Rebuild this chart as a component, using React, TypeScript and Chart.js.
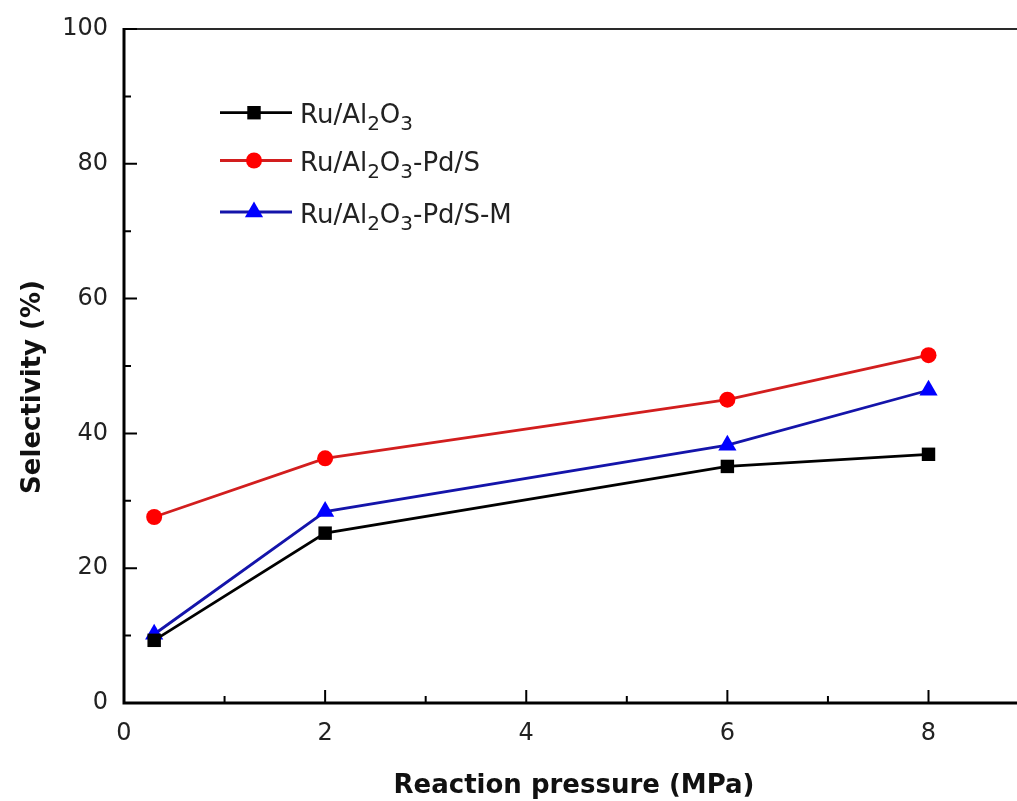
import React, { useEffect, useRef } from "react";
import { Chart, registerables } from "chart.js";

Chart.register(...registerables);

const pressure = [0.3, 2, 6, 8];
const ruAl2O3 = [9.3, 25.2, 35.1, 36.9];
const ruAl2O3PdS = [27.6, 36.3, 45.0, 51.6];
const ruAl2O3PdSM = [10.2, 28.4, 38.25, 46.4];

const xMajorTicks = [0, 2, 4, 6, 8];
const xMinorTicks = [1, 3, 5, 7];
const yMajorTicks = [0, 20, 40, 60, 80, 100];
const yMinorTicks = [10, 30, 50, 70, 90];

const xTitle = "Reaction pressure (MPa)";
const yTitle = "Selectivity (%)";

// legend labels split into [text, isSubscript] parts
const legendParts: [string, boolean][][] = [
  [["Ru/Al", false], ["2", true], ["O", false], ["3", true]],
  [["Ru/Al", false], ["2", true], ["O", false], ["3", true], ["-Pd/S", false]],
  [["Ru/Al", false], ["2", true], ["O", false], ["3", true], ["-Pd/S-M", false]],
];

const lineColors = ["#000000", "#d21e1e", "#1414aa"];
const markerColors = ["#000000", "#ff0000", "#0000ff"];
const markerStyles = ["rect", "circle", "triangle"];
const markerRadii = [9.5, 8, 10.5];

function drawMarker(ctx: CanvasRenderingContext2D, style: string, x: number, y: number, r: number, color: string) {
  ctx.save();
  ctx.fillStyle = color;
  ctx.beginPath();
  if (style === "rect") {
    const s = Math.SQRT1_2 * r;
    ctx.rect(x - s, y - s, 2 * s, 2 * s);
  } else if (style === "circle") {
    ctx.arc(x, y, r, 0, Math.PI * 2);
  } else {
    ctx.moveTo(x, y - r);
    ctx.lineTo(x + r * Math.sin((2 * Math.PI) / 3), y + r / 2);
    ctx.lineTo(x - r * Math.sin((2 * Math.PI) / 3), y + r / 2);
    ctx.closePath();
  }
  ctx.fill();
  ctx.restore();
}

const axesPlugin = {
  id: "customAxes",
  beforeDatasetsDraw(chart: any) {
    const ctx: CanvasRenderingContext2D = chart.ctx;
    const { left, right, top, bottom } = chart.chartArea;
    const xs = chart.scales.x;
    const ys = chart.scales.y;
    ctx.save();
    // top border
    ctx.strokeStyle = "#2a2a2a";
    ctx.lineWidth = 2;
    ctx.beginPath();
    ctx.moveTo(left, top);
    ctx.lineTo(right, top);
    ctx.stroke();
    // axes
    ctx.strokeStyle = "#000";
    ctx.lineWidth = 3;
    ctx.beginPath();
    ctx.moveTo(left, top - 1);
    ctx.lineTo(left, bottom);
    ctx.lineTo(right, bottom);
    ctx.stroke();
    // ticks
    ctx.lineWidth = 2;
    ctx.beginPath();
    xMajorTicks.forEach((v) => {
      if (v === 0) return;
      const px = xs.getPixelForValue(v);
      ctx.moveTo(px, bottom);
      ctx.lineTo(px, bottom - 13);
    });
    xMinorTicks.forEach((v) => {
      const px = xs.getPixelForValue(v);
      ctx.moveTo(px, bottom);
      ctx.lineTo(px, bottom - 7);
    });
    yMajorTicks.forEach((v) => {
      if (v === 0) return;
      const py = ys.getPixelForValue(v);
      ctx.moveTo(left, py);
      ctx.lineTo(left + 13, py);
    });
    yMinorTicks.forEach((v) => {
      const py = ys.getPixelForValue(v);
      ctx.moveTo(left, py);
      ctx.lineTo(left + 7, py);
    });
    ctx.stroke();

    // tick labels
    ctx.fillStyle = "#222";
    ctx.font = "24px 'DejaVu Sans'";
    ctx.textAlign = "center";
    ctx.textBaseline = "alphabetic";
    xMajorTicks.forEach((v) => {
      ctx.fillText(String(v), xs.getPixelForValue(v), bottom + 37);
    });
    ctx.textAlign = "right";
    ctx.textBaseline = "middle";
    yMajorTicks.forEach((v) => {
      ctx.fillText(String(v), left - 16, ys.getPixelForValue(v));
    });

    // axis titles
    ctx.fillStyle = "#111";
    ctx.font = "bold 26px 'DejaVu Sans'";
    ctx.textAlign = "center";
    ctx.textBaseline = "alphabetic";
    ctx.fillText(xTitle, 574, 793);
    ctx.save();
    ctx.translate(40, 387);
    ctx.rotate(-Math.PI / 2);
    ctx.fillText(yTitle, 0, 0);
    ctx.restore();
    ctx.restore();
  },
  afterDraw(chart: any) {
    const ctx: CanvasRenderingContext2D = chart.ctx;
    const rowsY = [112.7, 160.5, 212];
    ctx.save();
    rowsY.forEach((ry, i) => {
      ctx.strokeStyle = lineColors[i];
      ctx.lineWidth = 2.8;
      ctx.beginPath();
      ctx.moveTo(220, ry);
      ctx.lineTo(292, ry);
      ctx.stroke();
      drawMarker(ctx, markerStyles[i], 254, ry, markerRadii[i], markerColors[i]);
      let x = 300;
      ctx.fillStyle = "#222";
      ctx.textAlign = "left";
      ctx.textBaseline = "alphabetic";
      legendParts[i].forEach(([t, sub]) => {
        ctx.font = sub ? "20px 'DejaVu Sans'" : "26px 'DejaVu Sans'";
        ctx.fillText(t, x, ry + (sub ? 17.5 : 10.6));
        x += ctx.measureText(t).width;
      });
    });
    ctx.restore();
  },
};

export default function App() {
  const ref = useRef<HTMLCanvasElement | null>(null);
  useEffect(() => {
    if (!ref.current) return;
    const mk = (label: string, data: number[], i: number) => ({
      label,
      data: pressure.map((p, k) => ({ x: p, y: data[k] })),
      borderColor: lineColors[i],
      backgroundColor: markerColors[i],
      pointBackgroundColor: markerColors[i],
      pointBorderColor: markerColors[i],
      pointBorderWidth: 0,
      pointStyle: markerStyles[i],
      pointRadius: markerRadii[i],
      borderWidth: 2.8,
      tension: 0,
    });
    const chart = new Chart(ref.current, {
      type: "line",
      data: {
        datasets: [
          mk("Ru/Al2O3", ruAl2O3, 0),
          mk("Ru/Al2O3-Pd/S", ruAl2O3PdS, 1),
          mk("Ru/Al2O3-Pd/S-M", ruAl2O3PdSM, 2),
        ],
      },
      options: {
        responsive: false,
        animation: false,
        layout: { autoPadding: false, padding: { left: 124, top: 29, bottom: 98, right: 0 } },
        scales: {
          x: { type: "linear", min: 0, max: 8.88, display: false },
          y: { type: "linear", min: 0, max: 100, display: false },
        },
        plugins: { legend: { display: false }, tooltip: { enabled: false } },
      },
      plugins: [axesPlugin],
    } as any);
    return () => chart.destroy();
  }, []);
  return (
    <div style={{ position: "absolute", left: 0, top: 0, width: 1017, height: 801, background: "#fff" }}>
      <canvas ref={ref} width={1017} height={801} />
    </div>
  );
}
